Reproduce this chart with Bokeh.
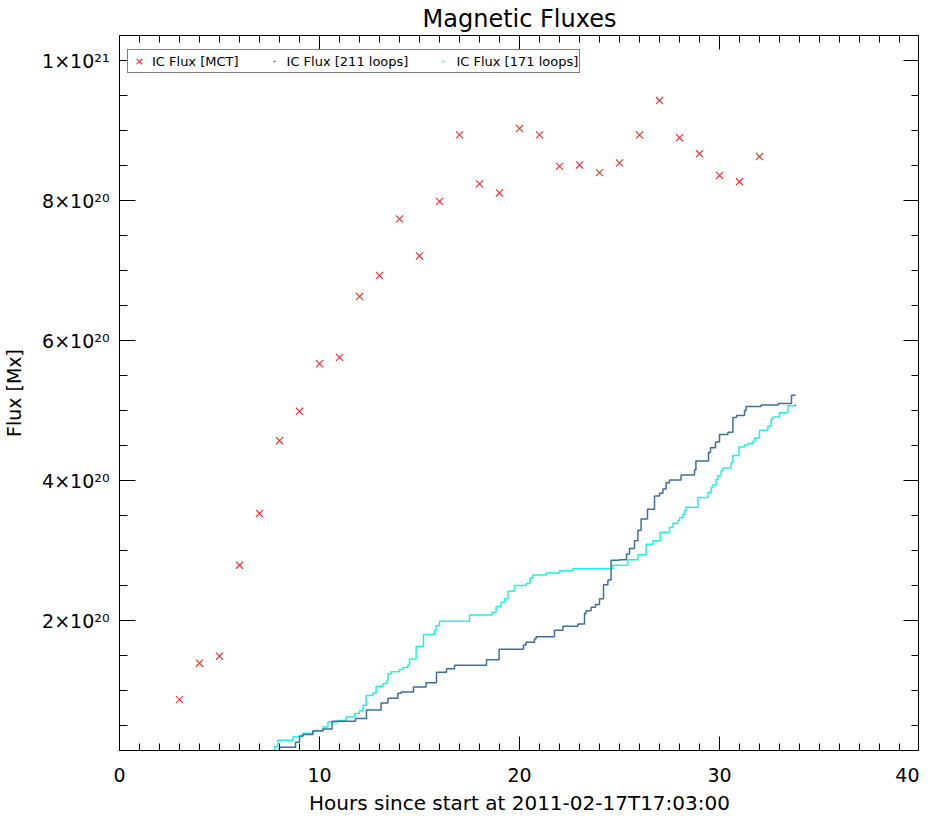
import numpy as np
from bokeh.plotting import figure
from bokeh.models import Range1d, LinearAxis, FixedTicker, Legend, LegendItem
from bokeh.embed import file_html
from bokeh.resources import INLINE

# ---- data (flux values in units of 1e20 Mx) ----
mct_hours = [3, 4, 5, 6, 7, 8, 9, 10, 11, 12, 13, 14, 15, 16, 17, 18, 19, 20, 21, 22,
             23, 24, 25, 26, 27, 28, 29, 30, 31, 32]
mct_flux = [0.87, 1.39, 1.49, 2.79, 3.53, 4.57, 4.99, 5.67, 5.76, 6.63, 6.93, 7.74, 7.21,
            7.99, 8.94, 8.24, 8.11, 9.03, 8.94, 8.49, 8.51, 8.40, 8.54, 8.94, 9.43, 8.90,
            8.67, 8.36, 8.27, 8.63]

loops211_hours = [7.30, 8.00, 8.80, 9.00, 9.17, 9.67, 10.17, 10.63, 11.80, 12.35, 13.08,
                  13.42, 13.92, 14.08, 14.70, 15.33, 15.85, 16.35, 16.75, 18.35, 18.98,
                  20.20, 20.33, 20.75, 20.83, 21.75, 22.17, 22.92, 23.25, 23.33, 23.58,
                  23.80, 24.00, 24.20, 24.42, 24.58, 25.00, 25.35, 25.50, 25.75, 25.92,
                  26.08, 26.40, 26.75, 27.00, 27.17, 27.33, 27.50, 28.08, 28.75, 28.82,
                  29.45, 29.55, 29.80, 30.00, 30.42, 30.67, 30.85, 31.25, 31.33, 32.08,
                  32.95, 33.60, 33.80]
loops211_flux = [0.14, 0.19, 0.26, 0.35, 0.37, 0.42, 0.45, 0.56, 0.60, 0.72, 0.82,
                 0.89, 0.96, 0.98, 1.05, 1.11, 1.26, 1.31, 1.36, 1.44, 1.59,
                 1.65, 1.69, 1.74, 1.77, 1.86, 1.92, 1.95, 2.10, 2.14, 2.19,
                 2.23, 2.31, 2.51, 2.58, 2.86, 2.87, 2.95, 3.03, 3.14, 3.29,
                 3.45, 3.59, 3.78, 3.82, 3.88, 3.97, 4.01, 4.08, 4.15, 4.28,
                 4.40, 4.47, 4.55, 4.66, 4.69, 4.90, 4.93, 5.00, 5.06, 5.08,
                 5.10, 5.22, 5.22]

loops171_hours = [7.30, 7.75, 7.92, 8.67, 9.17, 9.67, 10.17, 10.42, 10.92, 11.33, 11.75,
                  12.00, 12.17, 12.33, 12.67, 12.83, 13.17, 13.37, 13.42, 13.58, 14.00,
                  14.17, 14.42, 14.50, 14.83, 15.20, 15.75, 15.83, 16.00, 17.50, 18.63,
                  18.83, 19.08, 19.25, 19.42, 19.75, 20.33, 20.53, 20.67, 21.33, 22.00,
                  22.67, 24.67, 25.42, 25.92, 26.33, 26.67, 27.03, 27.50, 27.67, 27.92,
                  28.00, 28.17, 28.25, 28.33, 28.92, 29.42, 29.58, 29.67, 29.83, 29.92,
                  30.08, 30.17, 30.58, 30.67, 30.97, 31.25, 31.42, 31.67, 31.75, 32.00,
                  32.42, 32.58, 32.67, 33.00, 33.42, 33.80]
loops171_flux = [0.14, 0.20, 0.29, 0.34, 0.39, 0.43, 0.48, 0.55, 0.57, 0.62, 0.67,
                 0.71, 0.79, 0.93, 0.96, 1.06, 1.10, 1.14, 1.24, 1.27, 1.30,
                 1.33, 1.37, 1.45, 1.63, 1.80, 1.86, 1.93, 1.99, 2.08, 2.12,
                 2.20, 2.26, 2.31, 2.42, 2.50, 2.53, 2.61, 2.65, 2.68, 2.71,
                 2.74, 2.79, 2.87, 2.94, 3.09, 3.14, 3.26, 3.33, 3.39, 3.43,
                 3.47, 3.52, 3.57, 3.62, 3.76, 3.83, 3.90, 3.94, 4.02, 4.07,
                 4.14, 4.18, 4.26, 4.36, 4.48, 4.51, 4.53, 4.56, 4.61, 4.72,
                 4.78, 4.88, 4.91, 4.97, 5.07, 5.10]

x_ticks = [0, 10, 20, 30, 40]
x_minor = list(range(0, 41))
y_ticks = [2e20, 4e20, 6e20, 8e20, 1e21]
y_tick_labels = ["2×10²⁰", "4×10²⁰", "6×10²⁰", "8×10²⁰", "1×10²¹"]
y_minor = [i * 0.5e20 for i in range(1, 22)]

X_TITLE = "Hours since start at 2011-02-17T17:03:00"
Y_TITLE = "Flux [Mx]"

SCALE = 1e20
FONT = "DejaVu Sans"
RED = "#e23b3b"
BLUE = "#3f6f99"
CYAN = "#22f0e0"

p = figure(frame_width=800, frame_height=715, output_backend="svg", toolbar_location=None,
           x_range=Range1d(0, 40), y_range=Range1d(0.143e20, 10.36e20),
           x_axis_type=None, y_axis_type=None,
           min_border_left=0, min_border_right=0, min_border_top=0, min_border_bottom=0)
p.grid.visible = False
# full frame box, as in the original
p.outline_line_color = "black"
p.outline_line_width = 1
p.outline_line_alpha = 1
p.background_fill_color = "white"
p.border_fill_color = "white"

p.title.text = "Magnetic Fluxes"
p.title.align = "center"
p.title.text_font = FONT
p.title.text_font_style = "normal"
p.title.text_font_size = "24px"
p.title.text_color = "black"
p.title.standoff = 5
p.title.offset = 0

xt = FixedTicker(ticks=x_ticks, minor_ticks=x_minor)
yt = FixedTicker(ticks=y_ticks, minor_ticks=y_minor)


def style_axis(ax, major, minor, show_labels):
    ax.major_tick_in = major
    ax.major_tick_out = 0
    ax.minor_tick_in = minor
    ax.minor_tick_out = 0
    ax.axis_line_color = "black"
    ax.major_tick_line_color = "black"
    ax.minor_tick_line_color = "black"
    ax.axis_line_width = 1
    ax.major_label_text_font = FONT
    ax.major_label_text_color = "black"
    ax.axis_label_text_font = FONT
    ax.axis_label_text_font_style = "normal"
    ax.axis_label_text_color = "black"
    if not show_labels:
        # mirror axis: ticks only, empty labels that are never painted
        ticks = ax.ticker.ticks
        ax.major_label_overrides = {t: "" for t in ticks}
        ax.major_label_text_color = None
        ax.major_label_text_font_size = "1px"
        ax.major_label_standoff = 0
        ax.axis_label_standoff = 0


bottom = LinearAxis(ticker=xt, axis_label=X_TITLE)
style_axis(bottom, 14, 7, True)
bottom.major_label_text_font_size = "19px"
bottom.major_label_standoff = 17
bottom.axis_label_text_font_size = "20px"
bottom.axis_label_standoff = 6
p.add_layout(bottom, "below")

top = LinearAxis(ticker=xt)
style_axis(top, 14, 7, False)
p.add_layout(top, "above")

left = LinearAxis(ticker=yt, axis_label=Y_TITLE)
style_axis(left, 16, 8, True)
left.major_label_text_font_size = "19px"
left.axis_label_text_font_size = "19px"
left.major_label_standoff = 10
left.axis_label_standoff = 14
left.major_label_overrides = {v: s for v, s in zip(y_ticks, y_tick_labels)}
p.add_layout(left, "left")

right = LinearAxis(ticker=yt)
style_axis(right, 16, 8, False)
p.add_layout(right, "right")

y171 = np.array(loops171_flux) * SCALE
y211 = np.array(loops211_flux) * SCALE
ymct = np.array(mct_flux) * SCALE

r171 = p.step(loops171_hours, y171, mode="after", line_color=CYAN, line_width=1.5)
r211 = p.step(loops211_hours, y211, mode="after", line_color=BLUE, line_width=1.5)
rmct = p.scatter(mct_hours, ymct, marker="x", size=10, line_color=RED, line_width=1.2)

# legend-only symbols (the original legend shows a tiny dot for the lines)
d211 = p.scatter(x=np.array([np.nan]), y=np.array([np.nan]), marker="dot", size=8,
                 line_color=BLUE, fill_color=BLUE)
d171 = p.scatter(x=np.array([np.nan]), y=np.array([np.nan]), marker="dot", size=8,
                 line_color=CYAN, fill_color=CYAN)

legend = Legend(items=[LegendItem(label="IC Flux [MCT]", renderers=[rmct]),
                       LegendItem(label="IC Flux [211 loops]", renderers=[d211]),
                       LegendItem(label="IC Flux [171 loops]", renderers=[d171])],
                orientation="horizontal", location=(8, 677),
                label_text_font=FONT, label_text_font_size="13px", label_text_color="black",
                glyph_width=20, glyph_height=20, label_height=14, label_standoff=3,
                spacing=25, padding=1, margin=0,
                border_line_color="black", border_line_width=1,
                background_fill_color="white", background_fill_alpha=1)
p.add_layout(legend, "center")

open("out.html", "w").write(file_html(p, INLINE))
